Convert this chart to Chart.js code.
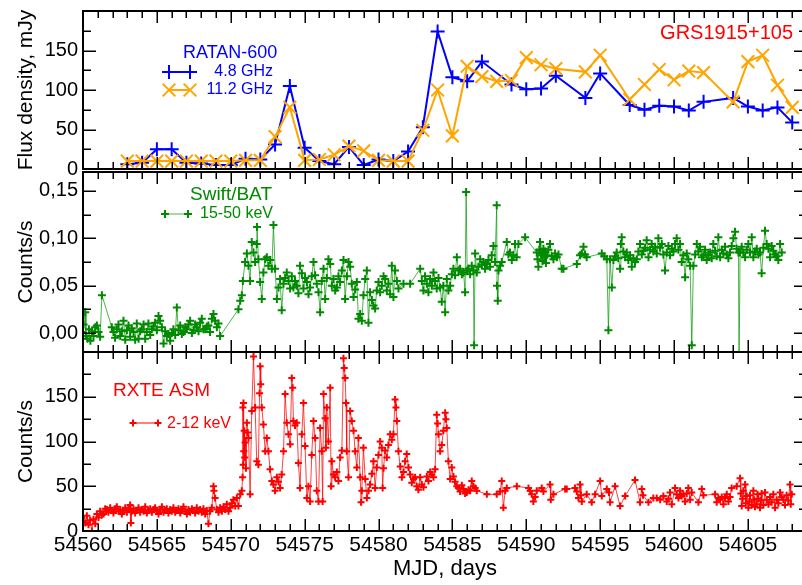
<!DOCTYPE html>
<html>
<head>
<meta charset="utf-8">
<title>GRS1915+105 light curves</title>
<script src="https://cdn.jsdelivr.net/npm/chart.js@4.4.1/dist/chart.umd.min.js"></script>
<style>
  html, body { margin: 0; padding: 0; background: #fff; overflow: hidden; }
  #wrap { position: relative; width: 802px; height: 585px; overflow: hidden; background: #fff; }
  #wrap canvas { position: absolute; left: 0; }
</style>
</head>
<body>
<div id="wrap">
  <canvas id="radio" width="830" height="180" style="top:0px"></canvas>
  <canvas id="bat" width="830" height="195" style="top:165px"></canvas>
  <canvas id="asm" width="830" height="240" style="top:345px"></canvas>
</div>
<script>
// ---------------- data ----------------
// RATAN-600 radio flux density (mJy)
const ratanMjd48 = [54563,54564,54565,54566,54567,54568,54569,54570,54571,54572,54573,54574,54575,54576,54577,54578,54579,54580,54581,54582,54583,54584,54585,54586,54587,54589,54590,54591,54592,54594,54595,54597,54598,54599,54600,54601,54602,54604,54605,54606,54607,54608];
const flux48 = [6,8,25,25,8,7,5,5,13,12,31,105,27,10,6,28,5,12,10,22,53,174,116,111,136,107,101,102,118,90,121,81,75,80,79,74,85,90,79,74,78,59];
const ratanMjd112 = [54563,54564,54565,54566,54567,54568,54569,54570,54571,54572,54573,54574,54575,54576,54577,54578,54579,54580,54581,54582,54583,54584,54585,54586,54587,54588,54589,54590,54591,54592,54594,54595,54597,54598,54599,54600,54601,54602,54604,54605,54606,54607,54608];
const flux112 = [10,10,10,10,10,10,10,10,11,11,41,78,11,12,18,29,23,11,10,10,49,100,42,130,117,111,112,141,132,127,123,144,88,107,126,113,124,122,85,136,144,106,78];

// Swift/BAT 15-50 keV count rate
const batMjd = [54559.92,54560.04,54560.15,54560.20,54560.30,54560.40,54560.50,54560.62,54560.71,54560.83,54560.94,54561.05,54561.16,54561.28,54561.95,54562.06,54562.17,54562.29,54562.40,54562.52,54562.63,54562.74,54562.86,54562.97,54563.08,54563.19,54563.30,54563.42,54563.53,54563.64,54563.76,54563.87,54563.98,54564.10,54564.21,54564.32,54564.43,54564.55,54564.66,54564.77,54564.88,54565.00,54565.11,54565.22,54565.34,54565.45,54565.56,54565.67,54565.78,54565.90,54566.01,54566.12,54566.24,54566.35,54566.46,54566.58,54566.69,54566.80,54566.92,54567.03,54567.14,54567.25,54567.37,54567.48,54567.59,54567.70,54567.82,54567.93,54568.04,54568.15,54568.27,54568.38,54568.49,54568.60,54568.72,54568.83,54568.94,54569.06,54569.17,54569.28,
  54570.52,54570.64,54570.75,54570.82,54570.97,54571.09,54571.20,54571.31,54571.42,54571.54,54571.65,54571.76,54571.78,54571.87,54571.99,54572.10,54572.21,54572.33,54572.44,54572.55,54572.67,54572.78,54572.89,54573.00,54573.12,54573.23,54573.34,54573.45,54573.57,54573.68,54573.79,54573.91,54574.02,54574.13,54574.24,54574.35,54574.47,54574.58,54574.69,54574.81,54574.92,54575.03,54575.15,54575.26,54575.37,54575.48,54575.60,54575.71,54575.82,54575.94,
  54576.05,54576.16,54576.28,54576.39,54576.50,54576.61,54576.73,54576.84,54576.95,54577.07,54577.18,54577.29,54577.40,54577.52,54577.63,54577.74,54577.86,54577.97,54578.08,54578.19,54578.31,54578.42,54578.53,54578.64,54578.76,54578.87,54578.98,54579.10,54579.21,54579.32,54579.43,54579.55,54579.66,54579.77,54579.88,54580.00,54580.11,54580.22,54580.34,54580.45,54580.56,54580.67,54580.79,54580.90,54581.01,54581.12,54581.24,54581.35,54581.69,54582.14,54582.82,54582.93,
  54583.04,54583.15,54583.27,54583.38,54583.49,54583.61,54583.72,54583.83,54583.94,54584.06,54584.17,54584.28,54584.39,54584.51,54584.62,54584.73,54584.85,54584.96,54585.07,54585.18,54585.30,54585.41,54585.52,54585.64,54585.75,54585.86,54585.93,54586.00,54586.09,54586.20,54586.31,54586.42,54586.47,54586.54,54586.65,54586.76,54586.88,54586.99,54587.10,54587.21,54587.33,54587.44,54587.55,54587.66,54587.78,54587.89,54588.00,54588.02,54588.07,54588.12,54588.23,54588.34,54588.68,54588.79,54588.90,54589.02,54589.13,54589.24,54589.35,54589.47,54589.92,
  54590.71,54590.76,54590.82,54590.88,54590.93,54590.99,54591.05,54591.10,54591.16,54591.22,54591.27,54591.33,54591.39,54591.50,54591.61,54591.73,54591.84,54591.95,54592.07,54592.18,54592.40,54592.52,54593.42,54593.64,54593.75,54593.87,54593.98,54594.09,54595.11,54595.28,54595.45,54595.56,54595.67,54595.79,54595.90,54596.01,54596.12,54596.23,54596.35,54596.40,54596.46,54596.57,54596.69,54596.80,54596.91,54597.03,54597.14,54597.25,54597.36,54597.48,54597.59,54597.70,54597.82,54597.93,
  54598.04,54598.15,54598.27,54598.38,54598.49,54598.60,54598.72,54598.83,54598.94,54599.06,54599.17,54599.28,54599.39,54599.51,54599.62,54599.73,54599.85,54599.96,54600.07,54600.18,54600.30,54600.41,54600.52,54600.63,54600.75,54600.86,54600.97,54601.09,54601.20,54601.31,54601.43,54601.54,54601.65,54601.76,54601.88,54601.99,54602.10,54602.21,54602.33,54602.44,54602.55,54602.66,54602.78,54602.89,54603.00,54603.12,54603.23,54603.34,54603.45,54603.57,54603.68,54603.79,54603.90,
  54604.02,54604.13,54604.24,54604.36,54604.40,54604.47,54604.58,54604.69,54604.81,54604.92,54605.03,54605.14,54605.26,54605.37,54605.48,54605.60,54605.71,54605.82,54605.93,54606.05,54606.16,54606.27,54606.39,54606.50,54606.61,54606.72,54606.84,54606.95,54607.06,54607.18,54607.29];
const batRate = [0.001,0.009,0.022,-0.003,-0.006,0.004,-0.008,0.002,-0.003,0.006,0.008,0.001,-0.004,0.040,0.006,0.001,-0.005,0.004,0.009,-0.003,0.002,0.013,-0.007,0.003,0.008,-0.004,0.005,0.001,-0.007,0.010,-0.006,0.002,0.004,0.009,-0.006,0.001,0.010,-0.002,0.004,0.007,0.011,0.003,0.018,0.013,0.006,-0.011,0.002,-0.003,-0.001,-0.008,0.000,0.004,-0.002,0.027,0.003,0.008,-0.001,0.001,0.006,0.004,0.009,0.013,0.000,0.003,0.009,0.006,0.002,0.011,0.015,0.004,0.004,0.007,0.008,0.001,0.015,0.020,0.013,0.006,0.010,-0.003,
  0.025,0.034,0.040,0.055,0.075,0.084,0.071,0.055,0.096,0.085,0.075,0.094,0.112,0.078,0.054,0.036,0.064,0.078,0.080,0.071,0.077,0.068,0.114,0.068,0.036,0.048,0.057,0.024,0.052,0.058,0.064,0.055,0.047,0.060,0.048,0.055,0.050,0.042,0.071,0.063,0.047,0.058,0.054,0.041,0.048,0.060,0.075,0.061,0.052,0.043,
  0.022,0.055,0.068,0.036,0.058,0.078,0.073,0.050,0.057,0.045,0.048,0.060,0.054,0.066,0.077,0.036,0.060,0.075,0.070,0.052,0.038,0.046,0.054,0.015,0.020,0.013,0.040,0.057,0.066,0.011,0.043,0.035,0.029,0.026,0.045,0.054,0.043,0.050,0.060,0.057,0.045,0.052,0.041,0.071,0.038,0.066,0.055,0.047,0.052,0.052,0.068,0.055,
  0.045,0.060,0.052,0.043,0.057,0.050,0.064,0.055,0.047,0.058,0.048,0.033,0.050,0.022,0.057,0.045,0.050,0.062,0.068,0.061,0.080,0.066,0.068,0.062,0.064,0.043,0.149,0.066,0.068,0.062,0.071,0.066,-0.013,0.084,0.064,0.070,0.078,0.072,0.075,0.068,0.073,0.077,0.070,0.082,0.092,0.075,0.135,0.050,0.034,0.066,0.071,0.075,0.096,0.083,0.085,0.077,0.082,0.094,0.080,0.094,0.101,
  0.085,0.078,0.070,0.088,0.096,0.084,0.082,0.076,0.089,0.080,0.086,0.074,0.082,0.088,0.094,0.081,0.078,0.084,0.080,0.083,0.068,0.068,0.073,0.082,0.084,0.091,0.083,0.080,0.084,0.081,0.078,0.003,0.078,0.048,0.077,0.081,0.085,0.079,0.068,0.094,0.101,0.086,0.080,0.085,0.077,0.082,0.070,0.079,0.075,0.078,0.086,0.094,0.083,0.087,
  0.090,0.098,0.080,0.088,0.094,0.086,0.091,0.084,0.100,0.090,0.094,0.083,0.066,0.085,0.092,0.082,0.089,0.086,0.094,0.100,0.088,0.094,0.075,0.082,0.059,0.084,0.078,0.071,-0.013,0.071,0.083,0.094,0.086,0.091,0.080,0.082,0.088,0.077,0.083,0.085,0.079,0.094,0.087,0.081,0.101,0.080,0.088,0.084,0.091,0.083,0.079,0.085,0.092,
  0.100,0.107,0.089,0.085,-0.040,0.085,0.091,0.085,0.080,0.088,0.094,0.085,0.101,0.080,0.086,0.089,0.083,0.085,0.063,0.090,0.108,0.094,0.089,0.080,0.092,0.087,0.083,0.081,0.077,0.094,0.085];

// RXTE/ASM 2-12 keV count rate
const asmMjd = [54559.92,54560.04,54560.15,54560.26,54560.37,54560.48,54560.60,54560.71,54560.83,54560.94,54561.05,54561.16,54561.28,54561.39,54561.50,54561.61,54561.72,54561.84,54561.95,54562.06,54562.18,54562.29,54562.40,54562.52,54562.63,54562.74,54562.86,54562.97,54563.08,54563.19,54563.24,54563.30,54563.42,54563.53,54563.64,54563.76,54563.87,54563.98,54564.10,54564.21,54564.32,54564.43,54564.55,54564.66,54564.77,54564.88,54565.00,54565.11,54565.22,54565.34,54565.45,54565.56,54565.67,54565.78,54565.90,54566.01,54566.12,54566.24,54566.35,54566.46,54566.58,54566.69,54566.80,54566.92,54567.03,54567.14,54567.25,54567.37,54567.48,54567.59,54567.70,54567.82,54567.93,54568.04,54568.15,54568.27,54568.38,54568.49,54568.60,54568.72,54568.83,54568.86,54568.94,54569.06,54569.17,54569.28,54569.40,54569.51,54569.62,54569.73,54569.85,54569.96,54570.07,54570.18,54570.30,54570.41,54570.52,54570.64,54570.75,
  54570.80,54570.82,54570.84,54570.86,54570.88,54570.91,54570.94,54570.97,54571.03,54571.09,54571.15,54571.20,54571.31,54571.42,54571.54,54571.65,54571.76,54571.87,54571.95,54571.99,54572.03,54572.10,54572.21,54572.33,54572.44,54572.55,54572.66,54572.78,54572.89,54573.00,54573.12,54573.23,54573.34,54573.45,54573.57,54573.68,54573.79,54573.91,54574.02,54574.13,54574.19,54574.24,54574.35,54574.47,54574.58,54574.69,54574.81,54574.92,54575.03,54575.15,54575.26,54575.37,54575.48,54575.60,54575.71,54575.82,54575.94,
  54576.05,54576.16,54576.22,54576.28,54576.39,54576.44,54576.50,54576.61,54576.73,54576.79,54576.84,54576.95,54577.06,54577.18,54577.29,54577.40,54577.52,54577.63,54577.68,54577.74,54577.80,54577.85,54577.97,54578.08,54578.19,54578.31,54578.42,54578.53,54578.64,54578.76,54578.82,54578.87,54578.98,54579.10,54579.21,54579.32,54579.43,54579.55,54579.66,54579.77,54579.88,54580.00,54580.11,54580.22,54580.28,54580.34,54580.45,54580.56,54580.67,54580.79,54580.90,54581.01,54581.12,54581.18,54581.24,54581.35,54581.47,54581.58,54581.69,54581.80,54581.91,54582.03,54582.14,54582.25,54582.37,54582.48,54582.59,54582.70,54582.82,54582.93,54583.04,
  54583.27,54583.38,54583.50,54583.61,54583.72,54583.83,54583.94,54584.00,54584.06,54584.17,54584.28,54584.39,54584.51,54584.56,54584.62,54584.73,54584.85,54584.96,54585.07,54585.18,54585.30,54585.41,54585.52,54585.64,54585.75,54585.86,54585.97,54586.09,54586.20,54586.31,54586.42,54586.54,54586.65,54587.33,54588.00,54588.23,54588.34,54588.45,54588.57,54588.68,54589.36,54590.15,54590.26,54590.37,54590.48,54590.60,54590.71,54591.05,54591.16,54591.61,54591.66,54591.84,54592.63,54592.74,
  54593.30,54593.42,54593.53,54593.64,54593.70,54593.76,54594.09,54594.43,54594.66,54595.00,54595.11,54595.45,54595.60,54595.67,54596.01,54596.35,54596.69,54597.36,54597.70,54597.82,54597.90,54598.27,54598.60,54598.83,54599.06,54599.28,54599.51,54599.62,54599.73,54599.85,54600.07,54600.18,54600.30,54600.41,54600.52,54600.63,54600.75,54600.86,54600.97,54601.09,54601.20,54601.65,54601.88,54601.99,54602.78,54602.89,54603.00,54603.12,54603.23,54603.34,54603.45,54603.57,54603.68,54603.79,54603.90,
  54604.24,54604.47,54604.52,54604.58,54604.64,54604.69,54604.81,54604.86,54604.92,54605.03,54605.09,54605.14,54605.26,54605.37,54605.42,54605.48,54605.60,54605.65,54605.71,54605.82,54605.88,54605.93,54606.05,54606.16,54606.27,54606.39,54606.50,54606.61,54606.72,54606.84,54606.95,54607.06,54607.18,54607.29,54607.40,54607.51,54607.62,54607.73,54607.85,54607.90,54607.97];
const asmRate = [15,11,9,17,7,12,0,13,8,19,15,22,18,19,25,24,21,26,23,20,25,27,22,24,19,23,26,21,24,29,9,22,25,20,23,26,21,24,22,27,20,23,25,21,24,26,22,19,24,27,21,23,25,20,24,22,26,21,23,25,20,24,27,22,19,24,21,25,23,20,26,22,24,21,25,19,23,8,22,26,50,45,37,24,21,26,22,27,24,30,22,26,31,35,28,37,28,41,45,
  60,138,74,143,89,112,82,99,70,121,110,104,41,134,195,138,78,74,154,184,164,138,119,89,104,89,69,56,52,45,60,55,48,63,89,153,121,108,97,171,160,123,118,121,76,48,108,143,95,37,50,33,85,123,104,45,33,
  115,89,33,153,126,93,138,100,160,50,78,63,60,66,56,82,90,193,182,171,143,89,60,134,123,112,89,71,104,60,32,45,93,58,37,45,52,64,78,48,71,85,100,93,48,70,90,82,96,108,102,108,147,138,123,89,72,60,66,78,86,71,63,54,58,60,50,46,60,52,49,
  61,56,66,63,60,69,130,120,108,89,96,112,132,125,115,78,58,71,61,55,50,48,44,51,47,42,43,46,45,56,50,48,45,41,41,44,56,26,45,48,50,48,45,41,33,38,45,48,44,52,35,41,47,47,
  48,44,37,52,40,33,41,32,41,56,39,47,43,32,50,28,39,57,32,47,40,32,37,37,35,39,33,36,43,30,48,41,37,45,39,41,33,42,48,35,43,32,47,40,41,32,37,35,38,30,37,41,33,38,48,
  50,59,42,28,36,45,52,31,39,26,33,40,29,45,35,27,30,41,36,26,34,42,29,43,35,30,38,32,41,26,35,31,43,38,35,29,40,34,52,30,41];

// axis tick labels
const mjdTicks = [54560,54565,54570,54575,54580,54585,54590,54595,54600,54605];
const fluxTicks = [0,50,100,150];
const batTicks = [0,0.05,0.10,0.15];
const asmTicks = [0,50,100,150];

// ---------------- drawing helpers ----------------
const FONT = '"Liberation Sans", Arial, Helvetica, sans-serif';
const toXY = (xs, ys) => xs.map((x, i) => ({x: x, y: ys[i]}));

function markPath(ctx, style, x, y, r) {
  ctx.beginPath();
  if (style === 'crossRot') {
    const d = r * Math.SQRT1_2;
    ctx.moveTo(x - d, y - d); ctx.lineTo(x + d, y + d);
    ctx.moveTo(x + d, y - d); ctx.lineTo(x - d, y + d);
  } else {
    ctx.moveTo(x - r, y); ctx.lineTo(x + r, y);
    ctx.moveTo(x, y - r); ctx.lineTo(x, y + r);
  }
  ctx.stroke();
}

// Box frame with inward major/minor tick marks on all four sides
const panelFrame = {
  id: 'panelFrame',
  afterDraw(chart, args, opts) {
    const {ctx, chartArea: a} = chart;
    const xs = chart.scales.x, ys = chart.scales.y;
    ctx.save();
    ctx.strokeStyle = '#000';
    ctx.lineWidth = 1.5;
    ctx.beginPath();
    for (let d = Math.ceil(xs.min); d <= xs.max; d++) {
      const px = Math.round(xs.getPixelForValue(d)) + 0.25;
      const len = d % 5 === 0 ? 12 : 7;
      ctx.moveTo(px, a.top); ctx.lineTo(px, a.top + len);
      ctx.moveTo(px, a.bottom); ctx.lineTo(px, a.bottom - len);
    }
    const step = opts.minor;
    const k0 = Math.ceil(ys.min / step - 1e-9), k1 = Math.floor(ys.max / step + 1e-9);
    for (let k = k0; k <= k1; k++) {
      const py = Math.round(ys.getPixelForValue(k * step)) + 0.25;
      const len = k % 2 === 0 ? 13 : 8;
      ctx.moveTo(a.left, py); ctx.lineTo(a.left + len, py);
      ctx.moveTo(a.right, py); ctx.lineTo(a.right - len, py);
    }
    ctx.stroke();
    ctx.lineWidth = 2;
    ctx.strokeRect(a.left, a.top, a.right - a.left, a.bottom - a.top);
    ctx.restore();
  }
};

// In-panel captions and legend keys
const panelNotes = {
  id: 'panelNotes',
  afterDraw(chart, args, opts) {
    const ctx = chart.ctx;
    ctx.save();
    (opts.items || []).forEach(it => {
      if (it.text) {
        ctx.fillStyle = it.color;
        ctx.font = it.size + 'px ' + FONT;
        ctx.textAlign = it.align || 'left';
        ctx.textBaseline = 'middle';
        ctx.fillText(it.text, it.x, it.y);
      } else {
        ctx.strokeStyle = it.lineColor || it.color;
        ctx.lineWidth = it.lineWidth;
        ctx.beginPath(); ctx.moveTo(it.x1, it.y); ctx.lineTo(it.x2, it.y); ctx.stroke();
        ctx.strokeStyle = it.color;
        ctx.lineWidth = it.markWidth;
        markPath(ctx, it.mark, it.x1, it.y, it.r);
        markPath(ctx, it.mark, it.x2, it.y, it.r);
      }
    });
    ctx.restore();
  }
};

function panel(canvasId, p) {
  const yScale = {
    type: 'linear', min: p.yMin, max: p.yMax, position: 'left',
    grid: {display: false, drawTicks: false}, border: {display: false},
    afterBuildTicks: s => { s.ticks = p.yTicks.map(v => ({value: v})); },
    afterFit: s => { s.width = 83; s.paddingTop = 0; s.paddingBottom = 0; },
    ticks: {color: '#000', padding: 5, font: {family: FONT, size: 20}, callback: p.yFormat},
    title: {display: true, text: p.yTitle, color: '#000', font: {family: FONT, size: 21}, padding: {top: 14, bottom: 0}}
  };
  const xScale = {
    type: 'linear', min: 54560, max: 54609, position: 'bottom', display: !!p.showX,
    grid: {display: false, drawTicks: false}, border: {display: false},
    afterBuildTicks: s => { s.ticks = mjdTicks.map(v => ({value: v})); },
    afterFit: s => {
      s.height = p.showX ? 54 : 0;
      s.paddingLeft = 0; s.paddingRight = 0;
    },
    ticks: {color: '#000', padding: 2, autoSkip: false, maxRotation: 0, font: {family: FONT, size: 21}, callback: v => String(v)},
    title: {display: !!p.showX, text: 'MJD, days', color: '#000', font: {family: FONT, size: 22}, padding: {top: 0, bottom: 3}}
  };
  return new Chart(document.getElementById(canvasId), {
    type: 'line',
    data: {datasets: p.datasets},
    options: {
      responsive: false, animation: false, devicePixelRatio: 1,
      layout: {padding: {top: p.padTop, right: 23, bottom: p.padBottom, left: 0}},
      plugins: {legend: {display: false}, tooltip: {enabled: false},
        panelFrame: {minor: p.minor}, panelNotes: {items: p.notes}},
      scales: {x: xScale, y: yScale}
    },
    plugins: [panelFrame, panelNotes]
  });
}

const BLUE = '#0000ff', ORANGE = '#ffa500', GREEN = '#008a00', RED = '#ff0000';

// Radio panel
panel('radio', {
  yMin: 0, yMax: 200, yTicks: fluxTicks, minor: 25, yTitle: 'Flux density, mJy',
  yFormat: v => String(v), padTop: 10, padBottom: 8,
  datasets: [
    {data: toXY(ratanMjd112, flux112), borderColor: ORANGE, borderWidth: 2, tension: 0,
     pointStyle: 'crossRot', pointRadius: 9, pointBorderWidth: 2, pointBorderColor: ORANGE},
    {data: toXY(ratanMjd48, flux48), borderColor: BLUE, borderWidth: 2, tension: 0,
     pointStyle: 'cross', pointRadius: 7, pointBorderWidth: 2, pointBorderColor: BLUE}
  ],
  notes: [
    {text: 'RATAN-600', x: 183, y: 53, size: 18, color: BLUE},
    {x1: 169, x2: 190, y: 72, color: BLUE, lineWidth: 2, mark: 'cross', r: 7, markWidth: 2},
    {text: '4.8 GHz', x: 273, y: 72, size: 16, color: BLUE, align: 'right'},
    {x1: 169, x2: 190, y: 90, color: ORANGE, lineWidth: 2, mark: 'crossRot', r: 9, markWidth: 2},
    {text: '11.2 GHz', x: 273, y: 90, size: 16, color: BLUE, align: 'right'},
    {text: 'GRS1915+105', x: 793, y: 33, size: 20, color: RED, align: 'right'}
  ]
});

// Swift/BAT panel
panel('bat', {
  yMin: -0.02, yMax: 0.17, yTicks: batTicks, minor: 0.025, yTitle: 'Counts/s',
  yFormat: v => v.toFixed(2).replace('.', ','), padTop: 7, padBottom: 8,
  datasets: [
    {data: toXY(batMjd, batRate), borderColor: 'rgba(0,150,0,0.7)', borderWidth: 1, tension: 0,
     pointStyle: 'cross', pointRadius: 4, pointBorderWidth: 2, pointBorderColor: GREEN}
  ],
  notes: [
    {text: 'Swift/BAT', x: 190, y: 30, size: 19, color: GREEN},
    {x1: 165, x2: 188, y: 49, color: GREEN, lineColor: 'rgba(0,150,0,0.7)', lineWidth: 1, mark: 'cross', r: 4, markWidth: 2},
    {text: '15-50 keV', x: 273, y: 49, size: 16, color: GREEN, align: 'right'}
  ]
});

// RXTE/ASM panel
panel('asm', {
  yMin: 0, yMax: 200, yTicks: asmTicks, minor: 25, yTitle: 'Counts/s', showX: true,
  yFormat: v => String(v), padTop: 7, padBottom: 0,
  datasets: [
    {data: toXY(asmMjd, asmRate), borderColor: 'rgba(255,0,0,0.75)', borderWidth: 1, tension: 0,
     pointStyle: 'cross', pointRadius: 3.5, pointBorderWidth: 2, pointBorderColor: RED}
  ],
  notes: [
    {text: 'RXTE ASM', x: 113, y: 46, size: 19, color: RED},
    {x1: 133, x2: 158, y: 78, color: RED, lineWidth: 1, mark: 'cross', r: 3.5, markWidth: 2},
    {text: '2-12 keV', x: 167, y: 79, size: 16, color: RED}
  ]
});
</script>
</body>
</html>
